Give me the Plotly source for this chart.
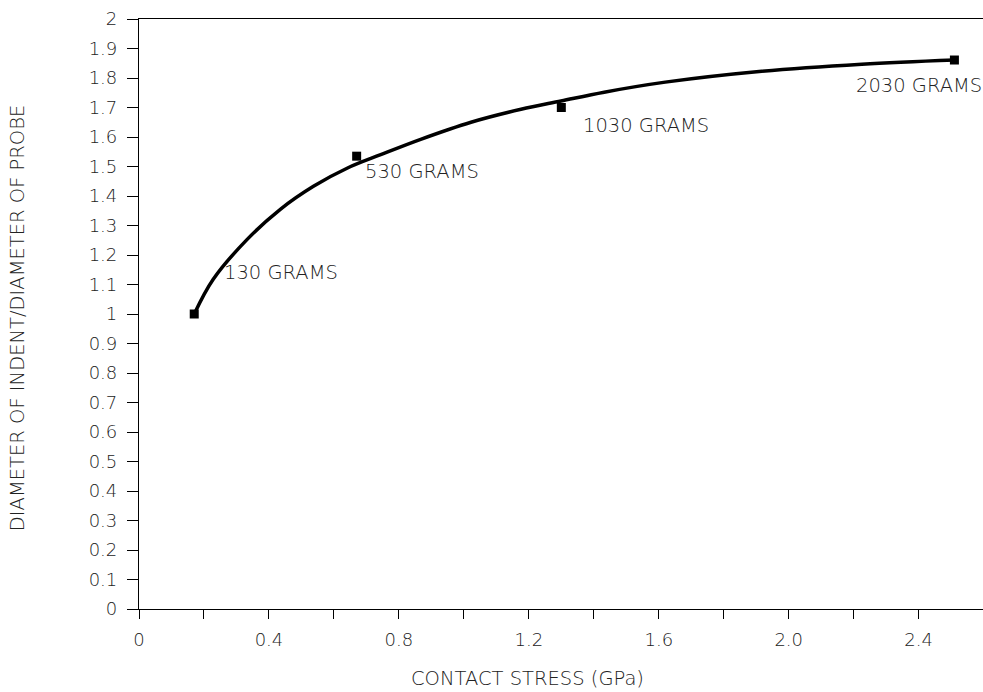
import plotly.graph_objects as go

# Measured data points (load in grams)
point_x = [0.17, 0.67, 1.30, 2.51]
point_y = [1.00, 1.535, 1.70, 1.861]
point_labels = ["130 GRAMS", "530 GRAMS", "1030 GRAMS", "2030 GRAMS"]
label_x = [0.256, 0.691, 1.361, 2.20]
label_y = [1.141, 1.484, 1.640, 1.776]

# Fitted curve
curve_x = [0.17, 0.228, 0.333, 0.435, 0.537, 0.642, 0.744, 0.867, 1.022, 1.176,
           1.299, 1.432, 1.620, 1.917, 2.225, 2.51]
curve_y = [1.00, 1.117, 1.253, 1.355, 1.433, 1.495, 1.540, 1.592, 1.650, 1.694,
           1.722, 1.752, 1.786, 1.823, 1.847, 1.861]

x_tickvals = [0, 0.4, 0.8, 1.2, 1.6, 2.0, 2.4]
x_ticktext = ["0", "0.4", "0.8", "1.2", "1.6", "2.0", "2.4"]
y_tickvals = [i / 10 for i in range(21)]
y_ticktext = ["0", "0.1", "0.2", "0.3", "0.4", "0.5", "0.6", "0.7", "0.8", "0.9",
              "1", "1.1", "1.2", "1.3", "1.4", "1.5", "1.6", "1.7", "1.8", "1.9", "2"]

FONT = "DejaVu Sans"
TXT = "#222222"
LBL = dict(family=FONT, size=19.5, color=TXT, weight=200)
TICK = dict(family=FONT, size=18, color=TXT, weight=200)

fig = go.Figure()
fig.add_trace(go.Scatter(x=curve_x, y=curve_y, mode="lines",
                         line=dict(color="black", width=3.5, shape="spline", smoothing=1.0),
                         hoverinfo="skip", showlegend=False))
fig.add_trace(go.Scatter(x=point_x, y=point_y, mode="markers",
                         marker=dict(symbol="square", size=9, color="black"),
                         showlegend=False))

for lx, ly, t in zip(label_x, label_y, point_labels):
    fig.add_annotation(x=lx, y=ly, text=t, showarrow=False, xanchor="left", yanchor="middle",
                       font=LBL)

fig.add_annotation(x=0.46, y=-0.1186, xref="paper", yref="paper", text="CONTACT STRESS (GPa)",
                   showarrow=False, xanchor="center", yanchor="middle", font=LBL)
fig.add_annotation(x=-0.1445, y=0.493, xref="paper", yref="paper",
                   text="DIAMETER OF INDENT/DIAMETER OF PROBE", textangle=-90,
                   showarrow=False, xanchor="center", yanchor="middle", font=LBL)

fig.update_xaxes(range=[0, 2.598], tickvals=x_tickvals, ticktext=x_ticktext,
                 ticks="outside", ticklen=9, tickwidth=1, tickcolor="black",
                 minor=dict(dtick=0.2, tick0=0, ticks="outside", ticklen=9, tickcolor="black", tickwidth=1),
                 showline=True, linecolor="black", linewidth=1.2, mirror=True,
                 showgrid=False, zeroline=False,
                 tickfont=TICK, ticklabelstandoff=5)
fig.update_yaxes(range=[0, 2], tickvals=y_tickvals, ticktext=y_ticktext,
                 ticks="outside", ticklen=11, tickwidth=1, tickcolor="black",
                 showline=True, linecolor="black", linewidth=1.2,
                 showgrid=False, zeroline=False,
                 tickfont=TICK, ticklabelstandoff=6)

fig.update_layout(width=983, height=692, plot_bgcolor="white", paper_bgcolor="white",
                  margin=dict(l=139, r=0, t=19, b=83), showlegend=False)

# remove the default page margin so the figure fills the window exactly
fig.write_html("out.html", config={"displayModeBar": False},
               post_script="document.body.style.margin='0';document.body.style.overflow='hidden';")
